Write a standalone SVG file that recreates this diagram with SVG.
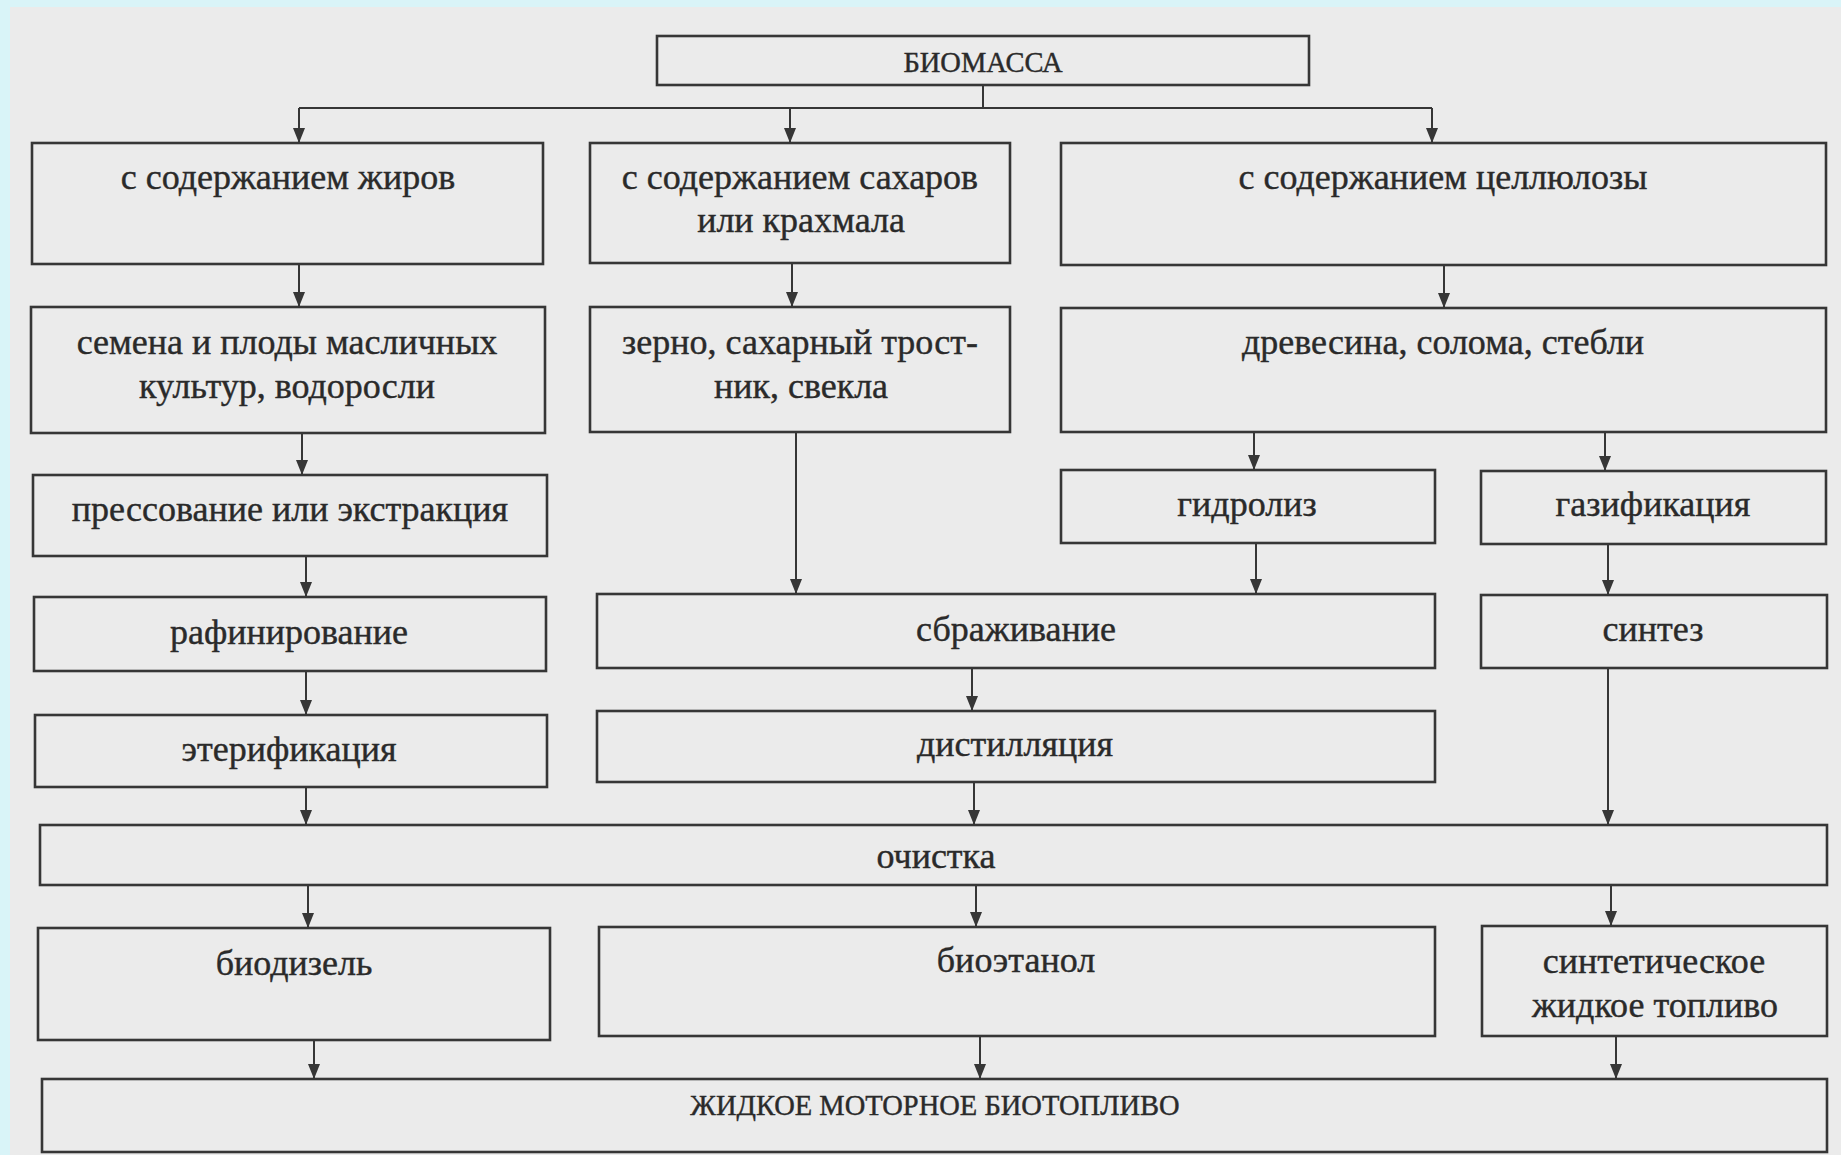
<svg xmlns="http://www.w3.org/2000/svg" width="1841" height="1155" viewBox="0 0 1841 1155">
<style>
.box{fill:none;stroke:#363636;stroke-width:2.6}
.t{font-family:"Liberation Serif","Times New Roman",serif;font-size:36px;fill:#2a2a2a;stroke:#2a2a2a;stroke-width:0.4;text-anchor:middle}
.cap{font-size:28.5px}
.c{fill:none;stroke:#363636;stroke-width:2}
</style>
<defs>
<marker id="ah" markerUnits="userSpaceOnUse" markerWidth="16" markerHeight="12" refX="15" refY="6" orient="auto">
<path d="M0,0 L15,6 L0,12 z" fill="#363636"/>
</marker>
</defs>
<rect x="0" y="0" width="1841" height="1155" fill="#d9f4f8"/>
<rect x="10" y="7" width="1831" height="1148" fill="#ebebeb"/>

<g id="connectors">
<path class="c" d="M983,85 V108 M299,108 H1432"/>
<path class="c" d="M299,108 V143" marker-end="url(#ah)"/>
<path class="c" d="M790,108 V143" marker-end="url(#ah)"/>
<path class="c" d="M1432,108 V143" marker-end="url(#ah)"/>
<path class="c" d="M299,264 V307" marker-end="url(#ah)"/>
<path class="c" d="M792,263 V307" marker-end="url(#ah)"/>
<path class="c" d="M1444,265 V308" marker-end="url(#ah)"/>
<path class="c" d="M302,433 V475" marker-end="url(#ah)"/>
<path class="c" d="M796,432 V594" marker-end="url(#ah)"/>
<path class="c" d="M1254,432 V470" marker-end="url(#ah)"/>
<path class="c" d="M1605,432 V471" marker-end="url(#ah)"/>
<path class="c" d="M306,556 V597" marker-end="url(#ah)"/>
<path class="c" d="M1256,543 V594" marker-end="url(#ah)"/>
<path class="c" d="M1608,544 V595" marker-end="url(#ah)"/>
<path class="c" d="M306,671 V715" marker-end="url(#ah)"/>
<path class="c" d="M972,668 V711" marker-end="url(#ah)"/>
<path class="c" d="M306,787 V825" marker-end="url(#ah)"/>
<path class="c" d="M974,782 V825" marker-end="url(#ah)"/>
<path class="c" d="M1608,668 V825" marker-end="url(#ah)"/>
<path class="c" d="M308,885 V928" marker-end="url(#ah)"/>
<path class="c" d="M976,885 V927" marker-end="url(#ah)"/>
<path class="c" d="M1611,885 V926" marker-end="url(#ah)"/>
<path class="c" d="M314,1040 V1079" marker-end="url(#ah)"/>
<path class="c" d="M980,1036 V1079" marker-end="url(#ah)"/>
<path class="c" d="M1616,1036 V1079" marker-end="url(#ah)"/>
</g>

<g id="biomass"><rect class="box" x="657" y="36" width="652" height="49"/><text class="t cap" x="983" y="72">БИОМАССА</text></g>
<g id="fats"><rect class="box" x="32" y="143" width="511" height="121"/><text class="t" x="288" y="189">с содержанием жиров</text></g>
<g id="sugars"><rect class="box" x="590" y="143" width="420" height="120"/><text class="t" x="800" y="189">с содержанием сахаров</text><text class="t" x="801" y="232">или крахмала</text></g>
<g id="cellulose"><rect class="box" x="1061" y="143" width="765" height="122"/><text class="t" x="1443" y="189">с содержанием целлюлозы</text></g>
<g id="seeds"><rect class="box" x="31" y="307" width="514" height="126"/><text class="t" x="287" y="354">семена и плоды масличных</text><text class="t" x="287" y="398">культур, водоросли</text></g>
<g id="grain"><rect class="box" x="590" y="307" width="420" height="125"/><text class="t" x="800" y="354">зерно, сахарный трост-</text><text class="t" x="801" y="398">ник, свекла</text></g>
<g id="wood"><rect class="box" x="1061" y="308" width="765" height="124"/><text class="t" x="1443" y="354">древесина, солома, стебли</text></g>
<g id="pressing"><rect class="box" x="33" y="475" width="514" height="81"/><text class="t" x="290" y="521">прессование или экстракция</text></g>
<g id="hydrolysis"><rect class="box" x="1061" y="470" width="374" height="73"/><text class="t" x="1247" y="516">гидролиз</text></g>
<g id="gasification"><rect class="box" x="1481" y="471" width="345" height="73"/><text class="t" x="1653" y="516">газификация</text></g>
<g id="refining"><rect class="box" x="34" y="597" width="512" height="74"/><text class="t" x="289" y="644">рафинирование</text></g>
<g id="fermentation"><rect class="box" x="597" y="594" width="838" height="74"/><text class="t" x="1016" y="641">сбраживание</text></g>
<g id="synthesis"><rect class="box" x="1481" y="595" width="346" height="73"/><text class="t" x="1653" y="641">синтез</text></g>
<g id="esterification"><rect class="box" x="35" y="715" width="512" height="72"/><text class="t" x="289" y="761">этерификация</text></g>
<g id="distillation"><rect class="box" x="597" y="711" width="838" height="71"/><text class="t" x="1015" y="756">дистилляция</text></g>
<g id="purification"><rect class="box" x="40" y="825" width="1787" height="60"/><text class="t" x="936" y="868">очистка</text></g>
<g id="biodiesel"><rect class="box" x="38" y="928" width="512" height="112"/><text class="t" x="294" y="975">биодизель</text></g>
<g id="bioethanol"><rect class="box" x="599" y="927" width="836" height="109"/><text class="t" x="1016" y="972">биоэтанол</text></g>
<g id="synfuel"><rect class="box" x="1482" y="926" width="345" height="110"/><text class="t" x="1654" y="973">синтетическое</text><text class="t" x="1655" y="1017">жидкое топливо</text></g>
<g id="final"><rect class="box" x="42" y="1079" width="1785" height="73"/><text class="t cap" x="935" y="1115">ЖИДКОЕ МОТОРНОЕ БИОТОПЛИВО</text></g>
</svg>
